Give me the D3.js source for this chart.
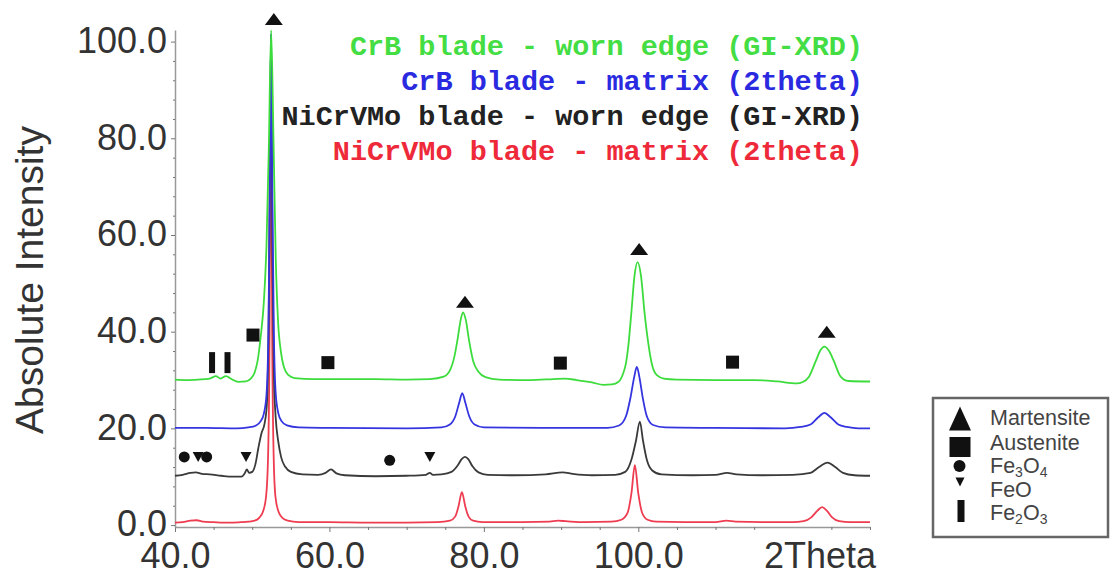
<!DOCTYPE html>
<html>
<head>
<meta charset="utf-8">
<script src="https://cdn.jsdelivr.net/npm/d3@7"></script>
<style>
  body { margin: 0; background: #fff; }
  svg { display: block; font-family: "Liberation Sans", Arial, sans-serif; }
</style>
</head>
<body>
<div id="chart"></div>
<script>
// tick values
const xTicks = [40, 60, 80, 100];
const yTicks = [0, 20, 40, 60, 80, 100];
const xMinor = d3.range(40, 131, 5).filter(v => v % 20 !== 0);
const yMinor = d3.range(0, 101, 4).filter(v => v % 20 !== 0);

// series names (top legend, top to bottom)
const seriesNames = [
    'CrB blade - worn edge (GI-XRD)',
    'CrB blade - matrix (2theta)',
    'NiCrVMo blade - worn edge (GI-XRD)',
    'NiCrVMo blade - matrix (2theta)'
];

// [2theta, intensity]
const nicrvmoMatrix = [
    [40, 0.5], [41, 0.6], [42, 0.9], [42.8, 1.0], [43.6, 0.7], [45, 0.6], [47, 0.5], [48.5, 0.6],
    [49.5, 0.7], [50.3, 0.9], [50.9, 1.5], [51.4, 2.8], [51.8, 6], [52.05, 14], [52.25, 40],
    [52.42, 100.5], [52.58, 40], [52.78, 14], [53.0, 6], [53.4, 2.8], [53.9, 1.5], [54.6, 0.9],
    [56, 0.6], [60, 0.6], [65, 0.5], [70, 0.5], [74, 0.6], [75.6, 0.9], [76.3, 1.8], [76.7, 3.8],
    [77.15, 6.8], [77.6, 3.8], [78.0, 1.8], [78.6, 0.9], [79.8, 0.6], [85, 0.6], [88.5, 0.7],
    [89.6, 0.9], [90.6, 0.8], [93, 0.6], [96.5, 0.7], [97.8, 1.1], [98.6, 2.5], [99.1, 6.5],
    [99.55, 12.4], [100.0, 6.5], [100.5, 2.5], [101.2, 1.1], [102.3, 0.7], [106, 0.6], [110, 0.6],
    [111.4, 0.9], [112.6, 0.7], [116, 0.6], [120, 0.6], [121.4, 0.8], [122.4, 1.6], [123.2, 3.0],
    [123.8, 3.7], [124.4, 3.0], [125.1, 1.6], [126.0, 0.8], [127.5, 0.6], [130, 0.6]
];

const nicrvmoWorn = [
    [40, 10.2], [41, 10.4], [42, 10.8], [42.7, 10.9], [43.5, 10.6], [44.5, 10.5], [46, 10.2],
    [47.5, 10.0], [48.6, 10.0], [49.0, 10.6], [49.3, 11.5], [49.6, 10.8], [50.0, 11.0], [50.4, 12.5],
    [50.8, 16], [51.2, 19], [51.6, 21], [51.9, 25], [52.15, 45], [52.42, 101], [52.62, 55],
    [52.82, 30], [53.05, 22], [53.35, 17.5], [53.75, 14], [54.3, 12], [55, 11], [56.5, 10.5],
    [58.5, 10.4], [59.5, 10.8], [60.2, 11.5], [60.9, 10.7], [62, 10.3], [66, 10.1], [70, 10.2],
    [72.5, 10.4], [73.0, 10.8], [73.4, 10.4], [74.5, 10.5], [75.8, 11.0], [76.6, 12.3], [77.1, 13.6],
    [77.55, 14.1], [78.0, 13.6], [78.5, 12.2], [79.3, 10.9], [80.5, 10.4], [84, 10.3], [88, 10.5],
    [90.2, 10.9], [91.5, 10.6], [94, 10.3], [97, 10.4], [98.3, 11.0], [99.1, 13.5], [99.7, 17.5],
    [100.2, 21.4], [100.6, 17.5], [101.1, 13.5], [101.8, 11.3], [103, 10.5], [107, 10.3],
    [110, 10.4], [111.5, 10.8], [112.7, 10.5], [116, 10.3], [120, 10.4], [122.3, 10.8],
    [123.4, 12.0], [124.5, 12.9], [125.5, 12.0], [126.5, 10.8], [128, 10.3], [130, 10.2]
];

const crbMatrix = [
    [40, 20.1], [44, 20.1], [48, 20.0], [49.5, 20.2], [50.5, 20.6], [51.1, 21.5], [51.5, 23],
    [51.85, 27], [52.1, 40], [52.28, 70], [52.43, 101.5], [52.6, 70], [52.8, 40], [53.05, 27],
    [53.4, 23], [53.8, 21.5], [54.5, 20.6], [56, 20.2], [60, 20.1], [70, 20.0], [74.5, 20.2],
    [75.6, 20.8], [76.3, 22.5], [76.8, 25.3], [77.2, 27.3], [77.6, 25.3], [78.1, 22.5],
    [78.8, 20.8], [80, 20.2], [90, 20.1], [96, 20.1], [97.5, 20.6], [98.4, 22.5], [99.0, 26.5],
    [99.45, 30.5], [99.8, 32.7], [100.15, 30.5], [100.55, 26.5], [101.1, 22.5], [101.9, 20.7],
    [103.5, 20.2], [110, 20.1], [119, 20.0], [121, 20.3], [122.3, 20.8], [123.3, 22.3],
    [124.1, 23.2], [124.9, 22.3], [125.9, 20.8], [127, 20.3], [128.5, 20.0], [130, 20.0]
];

const crbWorn = [
    [40, 30.1], [41.5, 30.0], [43, 30.1], [44.5, 30.3], [45.3, 30.8], [45.9, 30.3], [46.6, 30.8],
    [47.3, 30.2], [48.2, 29.6], [49.2, 29.7], [49.8, 30.3], [50.3, 31.5], [50.7, 34], [51.1, 39],
    [51.5, 46], [51.85, 58], [52.15, 78], [52.45, 102.3], [52.75, 80], [53.05, 55], [53.35, 42],
    [53.7, 36], [54.1, 32.7], [54.7, 31], [55.5, 30.4], [58, 30.2], [62, 30.2], [66, 30.2],
    [70, 30.1], [73, 30.2], [74.8, 30.7], [75.6, 32], [76.2, 35], [76.6, 38.5], [77.0, 42.5],
    [77.3, 44], [77.65, 42.5], [78.1, 38], [78.6, 34], [79.3, 31.7], [80.2, 30.6], [82, 30.1],
    [86, 30.0], [89, 30.2], [90.5, 30.3], [92, 30.0], [94, 29.5], [95.5, 29.0], [96.6, 29.1],
    [97.4, 29.6], [98.0, 31.2], [98.4, 33.5], [98.7, 37], [99.1, 44], [99.5, 51.5], [99.9, 54.4],
    [100.35, 51.5], [100.8, 44], [101.3, 37.5], [101.8, 33], [102.4, 31], [103.3, 30.3],
    [105, 30.1], [110, 30.0], [115, 30.0], [118, 29.7], [120.5, 29.3], [121.3, 29.6],
    [122.1, 30.7], [123.0, 34], [123.6, 36.2], [124.1, 36.9], [124.7, 36], [125.3, 34],
    [126.2, 30.7], [127.2, 29.8], [130, 29.7]
];

// phase markers [2theta, intensity]
const phaseNames = ['Martensite', 'Austenite', 'Fe3O4', 'FeO', 'Fe2O3'];
const martensiteMarks = [[52.8, 104.7], [77.55, 46.2], [100.1, 57.1], [124.4, 40.0]];
const austeniteMarks = [[50.1, 39.3], [59.8, 33.6], [89.9, 33.5], [112.2, 33.7]];
const fe3o4Marks = [[41.2, 14.1], [44.1, 14.1], [67.8, 13.4]];
const feoMarks = [[43.0, 14.1], [49.2, 14.1], [73.0, 14.1]];
const fe2o3Marks = [[44.8, 33.6], [46.8, 33.6]];

const seriesColors = ['#3ddc3d', '#3535e0', '#3a3a3a', '#ee3c50'];
const labelColors = ['#44dd44', '#2a2ae0', '#222222', '#ee2a3a'];

const width = 1110, height = 577;
const svg = d3.select('#chart').append('svg')
    .attr('width', width)
    .attr('height', height);

const x = d3.scaleLinear().domain([40, 130]).range([175, 870]);
const y = d3.scaleLinear().domain([-0.4, 102.4]).range([527, 30]);

// axes
const xAxis = svg.append('g')
    .attr('transform', `translate(0,${y(-0.4)})`)
    .call(d3.axisBottom(x).tickValues(xTicks).tickFormat(d3.format('.1f'))
        .tickSize(5).tickSizeOuter(0).tickPadding(10));
svg.append('g')
    .attr('transform', `translate(0,${y(-0.4)})`)
    .call(d3.axisBottom(x).tickValues(xMinor).tickFormat('').tickSize(3))
    .call(g => g.select('.domain').remove());

const yAxis = svg.append('g')
    .attr('transform', `translate(${x(40)},0)`)
    .call(d3.axisLeft(y).tickValues(yTicks).tickFormat(d3.format('.1f'))
        .tickSize(4).tickSizeOuter(0).tickPadding(4));
svg.append('g')
    .attr('transform', `translate(${x(40)},0)`)
    .call(d3.axisLeft(y).tickValues(yMinor).tickFormat('').tickSize(2))
    .call(g => g.select('.domain').remove());

svg.selectAll('.domain').attr('stroke', '#999').attr('stroke-width', 1.5);
svg.selectAll('.tick line').attr('stroke', '#777');
[xAxis, yAxis].forEach(g => g.selectAll('text')
    .style('font-size', '36px')
    .style('font-family', '"Liberation Sans", Arial, sans-serif')
    .attr('fill', '#333'));
yAxis.selectAll('text').attr('dy', '0.3em');

svg.append('text')
    .attr('x', 876).attr('y', 568)
    .attr('text-anchor', 'end')
    .style('font-size', '36px')
    .attr('fill', '#333')
    .text('2Theta');

svg.append('text')
    .attr('transform', 'translate(43,280) rotate(-90)')
    .attr('text-anchor', 'middle')
    .style('font-size', '39px')
    .attr('fill', '#333')
    .text('Absolute Intensity');

// spectra
const line = d3.line()
    .x(d => x(d[0]))
    .y(d => y(d[1]))
    .curve(d3.curveMonotoneX);

const seriesData = [crbWorn, crbMatrix, nicrvmoWorn, nicrvmoMatrix];
[3, 2, 1, 0].forEach(i => {
    svg.append('path')
        .datum(seriesData[i])
        .attr('fill', 'none')
        .attr('stroke', seriesColors[i])
        .attr('stroke-width', 1.8)
        .attr('stroke-linejoin', 'round')
        .attr('d', line);
});

// series legend
seriesNames.forEach((name, i) => {
    svg.append('text')
        .attr('x', 863)
        .attr('y', 55 + i * 35)
        .attr('text-anchor', 'end')
        .style('font-family', '"Courier New", "Liberation Mono", monospace')
        .style('font-weight', 'bold')
        .style('font-size', '28.5px')
        .style('white-space', 'pre')
        .attr('fill', labelColors[i])
        .text(name);
});

// marker shapes
const tri = (w, h, up) => up
    ? `M0,${-h / 2}L${w / 2},${h / 2}L${-w / 2},${h / 2}Z`
    : `M0,${h / 2}L${w / 2},${-h / 2}L${-w / 2},${-h / 2}Z`;

const marks = svg.append('g').attr('fill', '#111');
marks.selectAll('.mart').data(martensiteMarks).enter().append('path')
    .attr('transform', d => `translate(${x(d[0])},${y(d[1])})`)
    .attr('d', tri(18, 12, true));
marks.selectAll('.aus').data(austeniteMarks).enter().append('rect')
    .attr('x', d => x(d[0]) - 6.5).attr('y', d => y(d[1]) - 6.5)
    .attr('width', 13).attr('height', 13);
marks.selectAll('.fe3o4').data(fe3o4Marks).enter().append('circle')
    .attr('cx', d => x(d[0])).attr('cy', d => y(d[1])).attr('r', 5.5);
marks.selectAll('.feo').data(feoMarks).enter().append('path')
    .attr('transform', d => `translate(${x(d[0])},${y(d[1])})`)
    .attr('d', tri(11, 10, false));
marks.selectAll('.fe2o3').data(fe2o3Marks).enter().append('rect')
    .attr('x', d => x(d[0]) - 3).attr('y', d => y(d[1]) - 10.5)
    .attr('width', 6).attr('height', 21);

// phase legend box
const lg = svg.append('g');
lg.append('rect')
    .attr('x', 933).attr('y', 398)
    .attr('width', 175).attr('height', 139)
    .attr('fill', '#fff')
    .attr('stroke', '#666')
    .attr('stroke-width', 2.5);

const symG = lg.append('g').attr('fill', '#111');
symG.append('path').attr('transform', 'translate(960,418.5)').attr('d', tri(22, 24, true));
symG.append('rect').attr('x', 949.5).attr('y', 437).attr('width', 21).attr('height', 20);
symG.append('circle').attr('cx', 959.5).attr('cy', 466).attr('r', 6);
symG.append('path').attr('transform', 'translate(960,482)').attr('d', tri(9, 9, false));
symG.append('rect').attr('x', 957.5).attr('y', 500).attr('width', 7).attr('height', 22);

const phaseBaselines = [425, 450, 473, 497, 520];
phaseNames.forEach((name, i) => {
    const t = lg.append('text')
        .attr('x', 990).attr('y', phaseBaselines[i])
        .style('font-size', '21.5px')
        .attr('fill', '#444');
    // digits in the formulas are subscripts
    let shift = 0;
    name.split(/(\d)/).filter(s => s.length).forEach(part => {
        const sub = /\d/.test(part);
        const dy = (sub ? 4 : 0) - shift;
        shift = sub ? 4 : 0;
        t.append('tspan')
            .attr('dy', dy)
            .style('font-size', sub ? '14px' : null)
            .text(part);
    });
});
</script>
</body>
</html>
